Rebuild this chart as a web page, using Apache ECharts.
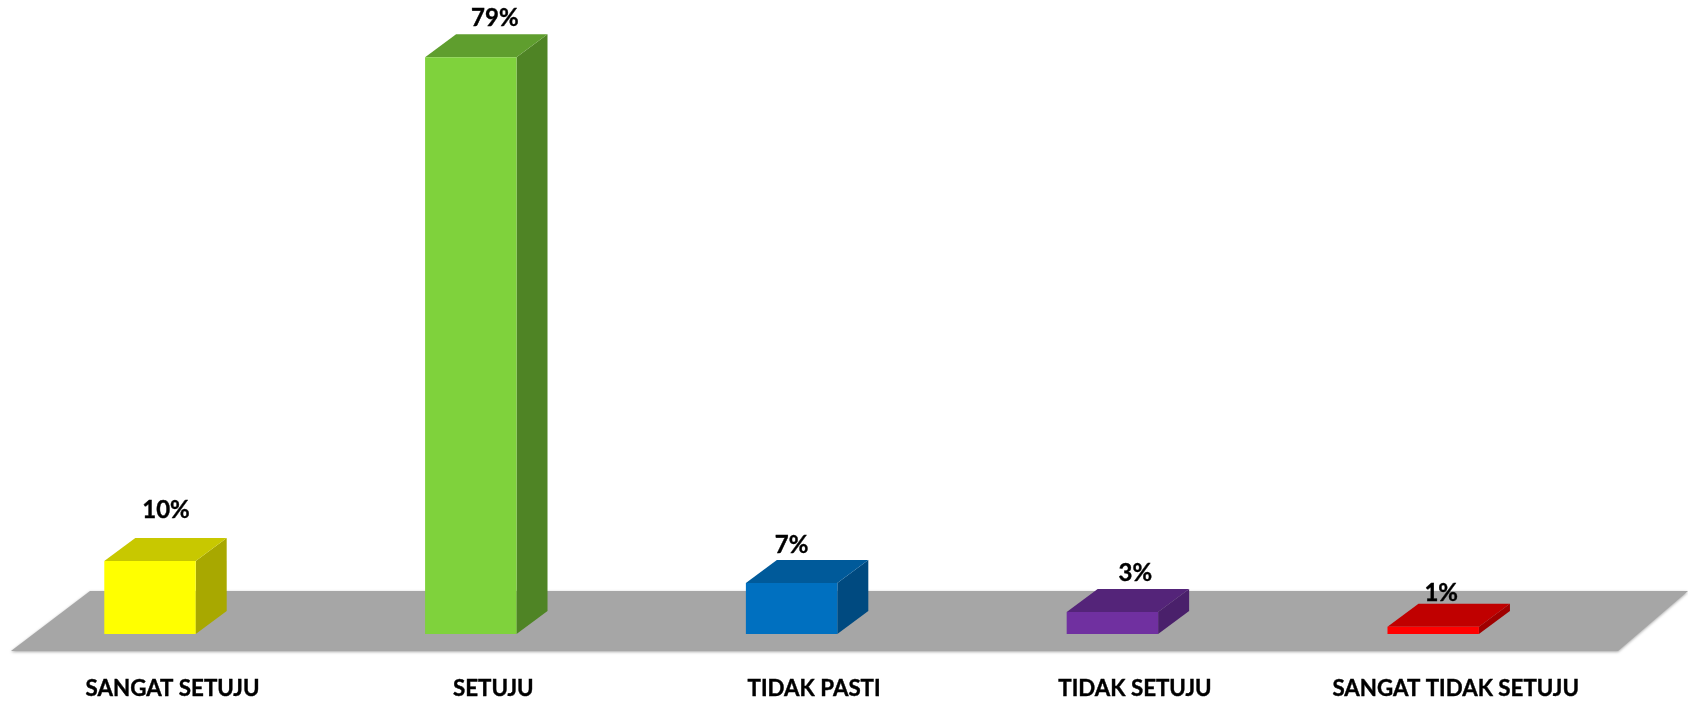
<!DOCTYPE html>
<html>
<head>
<meta charset="utf-8">
<style>html,body{margin:0;padding:0;background:#fff}#c{width:1688px;height:702px}</style>
<script src="https://cdn.jsdelivr.net/npm/echarts@6/dist/echarts.min.js"></script>
</head>
<body>
<div id="c"></div>
<script>
const categories = ['SANGAT SETUJU', 'SETUJU', 'TIDAK PASTI', 'TIDAK SETUJU', 'SANGAT TIDAK SETUJU'];
const percentValues = [10, 79, 7, 3, 1];

// styles, separate from the data
const frontColors = ['#FFFF00', '#7FD23C', '#0070C0', '#7030A0', '#FF0000'];
const topColors   = ['#C8C800', '#5F9E2E', '#005A9A', '#542479', '#C00000'];
const sideColors  = ['#A8A800', '#4F8425', '#004A80', '#4A206B', '#A00000'];
const labelShiftX = [16, 24, 0, 23, 8];
const labelShiftY = [-28, -16, -15, -16, -10];
const FONT = 'Lato, "Open Sans", sans-serif';
const DEPTH_X = 31, DEPTH_Y = 23, BAR_RATIO = 0.285;

function poly(pts, fill) {
  return { type: 'polygon', shape: { points: pts }, style: { fill: fill } };
}

const chart = echarts.init(document.getElementById('c'), null, { renderer: 'canvas' });
chart.setOption({
  animation: false,
  backgroundColor: '#fff',
  grid: { left: -10.4, width: 1604, top: 57.3, bottom: 68, outerBoundsMode: 'none' },
  xAxis: {
    type: 'category',
    data: categories,
    axisLine: { show: false },
    axisTick: { show: false },
    axisLabel: {
      interval: 0, margin: 44, padding: [0, 0, 0, 45],
      fontFamily: FONT, fontWeight: 'bold', fontSize: 22.3, color: '#000',
      textBorderColor: '#000', textBorderWidth: 0.4
    }
  },
  yAxis: { type: 'value', min: 0, max: 79, show: false, splitLine: { show: false } },
  series: [
    {
      // floor plane under the bars
      type: 'custom', z: 1, silent: true, clip: false,
      data: [[0, 0]],
      renderItem: function (params, api) {
        const base = api.coord([0, 0])[1];
        return {
          type: 'polygon',
          shape: { points: [[11, base + 17], [90, base - 43], [1688, base - 43], [1618, base + 17]] },
          style: { fill: '#A6A6A6', shadowBlur: 3, shadowColor: 'rgba(0,0,0,0.35)', shadowOffsetY: 1 }
        };
      }
    },
    {
      type: 'custom', z: 2, silent: true, clip: false,
      encode: { x: 0, y: 1 },
      data: percentValues.map((v, i) => [i, v]),
      renderItem: function (params, api) {
        const i = params.dataIndex;
        const top = api.coord([api.value(0), api.value(1)]);
        const bot = api.coord([api.value(0), 0]);
        const w = api.size([1, 0])[0] * BAR_RATIO;
        const l = top[0] - w / 2, r = top[0] + w / 2;
        return {
          type: 'group',
          children: [
            poly([[r, top[1]], [r + DEPTH_X, top[1] - DEPTH_Y], [r + DEPTH_X, bot[1] - DEPTH_Y], [r, bot[1]]], sideColors[i]),
            poly([[l, top[1]], [l + DEPTH_X, top[1] - DEPTH_Y], [r + DEPTH_X, top[1] - DEPTH_Y], [r, top[1]]], topColors[i]),
            poly([[l, top[1]], [r, top[1]], [r, bot[1]], [l, bot[1]]], frontColors[i]),
            {
              type: 'text',
              style: {
                text: api.value(1) + '%',
                x: top[0] + labelShiftX[i],
                y: top[1] - DEPTH_Y + labelShiftY[i],
                align: 'center', verticalAlign: 'middle',
                fontFamily: FONT, fontWeight: 'bold', fontSize: 24, fill: '#000',
                stroke: '#000', lineWidth: 0.4
              }
            }
          ]
        };
      }
    }
  ]
});
</script>
</body>
</html>
